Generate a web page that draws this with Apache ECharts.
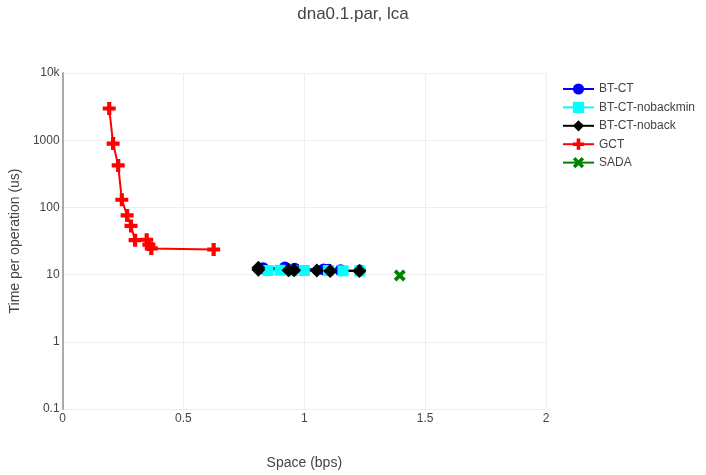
<!DOCTYPE html>
<html>
<head>
<meta charset="utf-8">
<script src="https://cdn.jsdelivr.net/npm/echarts@6/dist/echarts.min.js"></script>
<style>
  html, body { margin: 0; padding: 0; background: #fff; }
  #chart { width: 706px; height: 475px; }
</style>
</head>
<body>
<div id="chart"></div>
<script>
// Space (bps) vs time per operation (us) for each structure
const seriesNames = ['BT-CT', 'BT-CT-nobackmin', 'BT-CT-noback', 'GCT', 'SADA'];

const btCt = [[0.83, 12.4], [0.92, 12.8], [0.96, 12.2], [1.08, 11.9], [1.10, 11.8], [1.15, 11.6], [1.23, 11.5]];
const btCtNobackmin = [[0.85, 11.5], [0.90, 11.6], [0.95, 11.4], [1.00, 11.5], [1.10, 11.5], [1.16, 11.4], [1.23, 11.3]];
const btCtNoback = [[0.81, 12.6], [0.81, 11.8], [0.935, 11.6], [0.958, 11.6], [1.052, 11.5], [1.107, 11.3], [1.228, 11.3]];
const gct = [[0.193, 2960], [0.209, 890], [0.230, 422], [0.245, 130], [0.267, 76], [0.283, 53], [0.300, 32.5],
             [0.348, 33], [0.357, 28], [0.367, 24.5], [0.625, 23.6]];
const sada = [[1.395, 9.7]];

const xTicks = [0, 0.5, 1, 1.5, 2];
const yTickLabels = { 0.1: '0.1', 1: '1', 10: '10', 100: '100', 1000: '1000', 10000: '10k' };

const colors = ['#0000ff', '#00ffff', '#000000', '#ff0000', '#008000'];
const symbols = [
  'circle',
  'rect',
  'diamond',
  'path://M3.4,0H6.6V3.4H10V6.6H6.6V10H3.4V6.6H0V3.4H3.4Z',
  'path://M2.2,0L5,2.8L7.8,0L10,2.2L7.2,5L10,7.8L7.8,10L5,7.2L2.2,10L0,7.8L2.8,5L0,2.2Z'
];
const symbolSizes = [12, 11, 14, 13, 12];
const dataSets = [btCt, btCtNobackmin, btCtNoback, gct, sada];

const font = 'Liberation Sans, Arial, sans-serif';

const chart = echarts.init(document.getElementById('chart'), null, { renderer: 'canvas' });

chart.setOption({
  animation: false,
  backgroundColor: '#ffffff',
  title: {
    text: 'dna0.1.par, lca',
    left: 'center',
    top: 1,
    textStyle: { fontFamily: font, fontSize: 17, fontWeight: 'normal', color: '#444' }
  },
  legend: {
    orient: 'vertical',
    left: 557,
    top: 78,
    itemWidth: 31,
    itemHeight: 14,
    itemGap: 6.4,
    data: seriesNames,
    textStyle: { fontFamily: font, fontSize: 12, color: '#444' }
  },
  grid: { left: 60, right: 160, top: 73, bottom: 59, containLabel: false },
  xAxis: {
    type: 'value',
    min: 0,
    max: 2,
    interval: 0.5,
    name: 'Space (bps)',
    nameLocation: 'middle',
    nameGap: 47,
    nameTextStyle: { fontFamily: font, fontSize: 14, color: '#444' },
    axisLine: { show: false },
    axisTick: { show: false },
    axisLabel: {
      fontFamily: font, fontSize: 12, color: '#444', margin: 4,
      formatter: v => (xTicks.indexOf(v) >= 0 ? String(v) : '')
    },
    splitLine: { show: true, lineStyle: { color: '#eeeeee', width: 1 } }
  },
  yAxis: {
    type: 'log',
    logBase: 10,
    min: 0.1,
    max: 10000,
    name: 'Time per operation (us)',
    nameLocation: 'middle',
    nameGap: 37,
    nameTextStyle: { fontFamily: font, fontSize: 14, color: '#444' },
    axisLine: { show: true, onZero: false, lineStyle: { color: '#aaaaaa', width: 2 } },
    axisTick: { show: false },
    axisLabel: {
      fontFamily: font, fontSize: 12, color: '#444', margin: 3,
      formatter: v => {
        const key = Object.keys(yTickLabels).find(k => Math.abs(Math.log10(+k) - Math.log10(v)) < 1e-6);
        return key !== undefined ? yTickLabels[key] : '';
      }
    },
    splitLine: { show: true, lineStyle: { color: '#eeeeee', width: 1 } }
  },
  series: seriesNames.map((name, i) => ({
    name: name,
    type: 'line',
    data: dataSets[i],
    symbol: symbols[i],
    symbolSize: symbolSizes[i],
    showAllSymbol: true,
    color: colors[i],
    lineStyle: { color: colors[i], width: 2 },
    itemStyle: { color: colors[i], borderWidth: 0 },
    emphasis: { disabled: true }
  }))
});
</script>
</body>
</html>
